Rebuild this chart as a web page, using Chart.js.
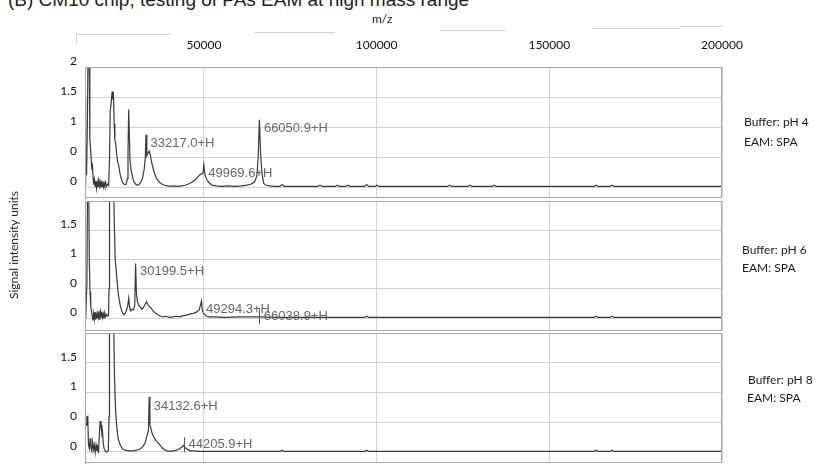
<!DOCTYPE html>
<html><head><meta charset="utf-8">
<script src="https://cdn.jsdelivr.net/npm/chart.js@4.4.1/dist/chart.umd.min.js"></script>
<style>
body{margin:0;background:#fff;}
#wrap{position:relative;width:818px;height:465px;overflow:hidden;background:#fff;font-family:Lato,"Open Sans",sans-serif;}
.cv{position:absolute;left:0;width:818px;}
.cv canvas{display:block;}
.txt{position:absolute;white-space:nowrap;color:#1a1a1a;font-size:12px;line-height:14px;}
.art{position:absolute;background:#cfcfcf;}
</style></head><body>
<div id="wrap">
  <div class="txt" style="left:8px;top:-10px;font-family:'Liberation Sans',Arial,sans-serif;font-size:19px;line-height:19px;color:#222;">(B) CM10 chip, testing of PAs EAM at high mass range</div>
  <div class="art" style="left:76px;top:34px;width:1px;height:9px"></div>
  <div class="art" style="left:76px;top:34px;width:94px;height:1px"></div>
  <div class="art" style="left:255px;top:32px;width:80px;height:1px"></div>
  <div class="art" style="left:440px;top:30px;width:65px;height:1px"></div>
  <div class="art" style="left:592px;top:28px;width:88px;height:1px"></div>
  <div class="art" style="left:680px;top:26px;width:42px;height:1px"></div>
  <div class="cv" style="top:0;height:200px"><canvas id="c1" width="818" height="200"></canvas></div>
  <div class="cv" style="top:199px;height:134px"><canvas id="c2" width="818" height="134"></canvas></div>
  <div class="cv" style="top:331px;height:134px"><canvas id="c3" width="818" height="134"></canvas></div>
  <div class="txt" style="left:372px;top:12px;">m/z</div>
  <div class="txt" style="left:14px;top:245px;transform:translate(-50%,-50%) rotate(-90deg);">Signal intensity units</div>
  <div class="txt" style="left:744px;top:115px;">Buffer: pH 4</div>
  <div class="txt" style="left:744px;top:135px;">EAM: SPA</div>
  <div class="txt" style="left:742px;top:243px;">Buffer: pH 6</div>
  <div class="txt" style="left:742px;top:261px;">EAM: SPA</div>
  <div class="txt" style="left:748px;top:373px;">Buffer: pH 8</div>
  <div class="txt" style="left:747px;top:391px;">EAM: SPA</div>
</div>
<script>
// ---- axis values ----
const xTickValues = [50000, 100000, 150000, 200000];
const xTickLabels = ['50000', '100000', '150000', '200000'];
const yTickValues = [0, 0.5, 1, 1.5, 2];
const yTickText = ['0', '0', '1', '1.5', '2'];

// ---- Panel 1: Buffer pH 4 ----
const p1Mz = [15560,15650,15800,16000,16250,16450,16750,16950,17250,17500,
 17700,17900,18100,18300,18500,18700,18900,19100,19300,19500,
 19700,19900,20100,20300,20500,20700,20900,21100,21300,21500,
 21800,22100,22400,22650,22850,23100,23400,23600,23800,24000,
 24200,24450,24700,25000,25300,25700,26100,26500,27000,27500,
 27800,28000,28200,28400,28600,28900,29300,29700,30200,30700,
 31200,31700,32200,32700,33000,33217,33450,33750,34100,34400,
 34750,35100,35500,36000,36500,37100,37800,38600,39500,40500,
 41500,42500,43500,44500,45500,46500,47500,48400,49200,49700,
 49970,50300,50800,51500,52300,53500,55000,57000,59000,61000,
 62500,63700,64600,65300,65700,66050,66400,66800,67300,68000,
 69000,70500,72000,72600,73200,80000,83000,83600,84200,88000,
 88600,89200,91000,91600,92200,96500,97100,97700,99500,100100,
 100700,120500,121100,121700,126400,127000,127600,133500,134100,134700,
 163000,163600,164200,167600,168200,168800,200000];
const p1Int = [0.02,1.48,0.45,0.20,1.10,2.40,2.40,0.80,0.56,0.32,
 0.36,0.14,0.04,0.12,0.01,0.10,-0.02,0.08,0.00,0.11,
 0.02,0.09,-0.01,0.07,0.01,0.10,0.00,0.06,0.01,0.08,
 0.01,0.05,0.03,0.45,1.28,1.38,1.59,1.46,1.52,1.05,
 0.78,0.72,0.55,0.42,0.36,0.22,0.13,0.07,0.04,0.05,
 0.14,0.55,1.29,0.85,0.42,0.28,0.17,0.09,0.05,0.03,
 0.04,0.08,0.15,0.30,0.48,0.87,0.52,0.56,0.60,0.55,
 0.44,0.35,0.26,0.18,0.12,0.08,0.05,0.03,0.02,0.01,
 0.02,0.01,0.02,0.03,0.05,0.08,0.12,0.18,0.22,0.23,
 0.37,0.20,0.13,0.07,0.03,0.02,0.01,0.02,0.01,0.02,
 0.03,0.05,0.08,0.18,0.50,1.12,0.55,0.22,0.06,0.03,
 0.02,0.01,0.01,0.04,0.01,0.01,0.01,0.03,0.01,0.01,
 0.03,0.01,0.01,0.03,0.01,0.01,0.04,0.01,0.01,0.03,
 0.01,0.01,0.03,0.01,0.01,0.03,0.01,0.01,0.03,0.01,
 0.01,0.03,0.01,0.01,0.03,0.01,0.01];
const p1PeakMz = [33217.0, 49969.6, 66050.9];
const p1PeakText = ['33217.0+H', '49969.6+H', '66050.9+H'];
const p1PeakAt = [0.73, 0.23, 0.97];
const p1PeakTick = [false, false, false];

// ---- Panel 2: Buffer pH 6 ----
const p2Mz = [15560,15800,16100,16300,16600,16800,17000,17200,17450,17650,
 17850,18050,18250,18450,18650,18850,19050,19250,19450,19650,
 19850,20050,20250,20450,20650,20850,21050,21250,21500,21800,
 22100,22350,22500,22650,23800,24000,24300,24770,25200,25730,
 26200,26700,27200,27600,27900,28200,28500,28800,29200,29600,
 29950,30199,30450,30750,31100,31500,32000,32500,33000,33400,
 33800,34400,34900,35400,36000,36800,37500,38200,39000,40000,
 41100,42000,43000,44000,45000,46000,46900,47800,48600,49294,
 49500,49800,50300,50800,51500,53000,56000,60000,63000,66000,
 70000,96500,97100,97700,163000,163600,164200,167600,168200,168800,
 200000];
const p2Int = [0.00,0.08,0.60,2.40,2.40,0.99,0.45,0.20,0.11,0.03,
 -0.04,0.08,-0.02,0.10,-0.03,0.06,0.00,0.12,0.01,0.08,
 -0.03,0.10,0.02,0.11,0.01,0.07,-0.01,0.09,0.02,0.06,
 0.03,0.05,0.50,2.40,2.40,1.70,1.00,0.68,0.40,0.22,
 0.12,0.06,0.08,0.14,0.20,0.34,0.17,0.12,0.15,0.14,
 0.22,0.93,0.40,0.28,0.22,0.19,0.15,0.18,0.24,0.28,
 0.22,0.19,0.15,0.11,0.08,0.05,0.03,0.02,0.03,0.01,
 0.02,0.03,0.02,0.04,0.05,0.07,0.08,0.10,0.14,0.29,
 0.14,0.09,0.05,0.03,0.02,0.02,0.01,0.02,0.02,0.02,
 0.01,0.01,0.03,0.01,0.01,0.03,0.01,0.01,0.03,0.01,
 0.01];
const p2PeakMz = [30199.5, 49294.3, 66038.9];
const p2PeakText = ['30199.5+H', '49294.3+H', '66038.9+H'];
const p2PeakAt = [0.80, 0.14, 0.03];
const p2PeakTick = [false, false, true];

// ---- Panel 3: Buffer pH 8 ----
const p3Mz = [15560,15650,15900,16100,16350,16550,16800,17050,17250,17500,
 17750,18000,18250,18500,18750,19000,19200,19450,19700,19940,
 20100,20250,20450,20620,20850,21100,21500,21900,22300,22500,
 22640,23800,24080,24400,24770,25200,25730,26400,27170,28300,
 29590,30500,31500,32300,32950,33500,33920,34133,34350,34600,
 35000,35400,36000,36800,37500,38240,39200,40200,41100,42100,
 42800,43500,44000,44300,45000,46000,47000,49000,55000,72000,
 72600,73200,96500,97100,97700,163000,163600,164200,167600,168200,
 168800,200000];
const p3Int = [2.00,0.51,0.45,0.59,0.60,0.12,0.06,0.23,0.08,0.02,
 0.17,0.04,0.12,-0.01,0.12,0.02,0.08,-0.02,0.28,0.52,
 0.40,0.45,0.30,0.34,0.14,0.05,0.01,0.00,0.02,0.60,
 2.40,2.40,1.29,0.70,0.40,0.21,0.12,0.05,0.03,0.02,
 0.02,0.03,0.05,0.09,0.15,0.28,0.36,0.93,0.46,0.40,
 0.31,0.26,0.20,0.15,0.10,0.05,0.02,0.01,0.02,0.03,
 0.05,0.08,0.11,0.09,0.05,0.02,0.02,0.01,0.01,0.01,
 0.03,0.01,0.01,0.03,0.01,0.01,0.03,0.01,0.01,0.03,
 0.01,0.01];
const p3PeakMz = [34132.6, 44205.9];
const p3PeakText = ['34132.6+H', '44205.9+H'];
const p3PeakAt = [0.76, 0.13];
const p3PeakTick = [false, true];

const X_MIN = 15550, X_MAX = 200000;

const panelDecor = {
  id: 'panelDecor',
  afterDatasetsDraw(chart, args, opts) {
    const {ctx, chartArea: a, scales: {x, y}} = chart;
    ctx.save();
    ctx.strokeStyle = '#a8a8a8';
    ctx.lineWidth = 1;
    ctx.strokeRect(a.left + 0.5, a.top + 0.5, a.right - a.left - 1, a.bottom - a.top - 1);
    const p = opts.peaks;
    if (p) {
      ctx.font = '13px "Liberation Sans", Arial, sans-serif';
      ctx.fillStyle = '#666';
      ctx.strokeStyle = '#555';
      ctx.textBaseline = 'middle';
      ctx.textAlign = 'left';
      p.mz.forEach((m, i) => {
        const px = x.getPixelForValue(m);
        const py = y.getPixelForValue(p.at[i]);
        ctx.fillText(p.text[i], px + 4.5, py);
        if (p.tick[i]) {
          ctx.beginPath();
          ctx.moveTo(Math.round(px) + 0.5, py - 7);
          ctx.lineTo(Math.round(px) + 0.5, py + 8);
          ctx.stroke();
        }
      });
    }
    ctx.restore();
  }
};

function makePanel(id, mz, ints, yMin, yTicks, peaks, isTop) {
  const pts = mz.map((m, i) => ({x: m, y: ints[i]}));
  return new Chart(document.getElementById(id), {
    type: 'line',
    data: {datasets: [{data: pts, borderColor: '#3a3a3a', borderWidth: 1.2, pointRadius: 0, tension: 0, fill: false}]},
    options: {
      responsive: false, animation: false, devicePixelRatio: 1,
      layout: {padding: {top: isTop ? 0 : 2, bottom: 2, left: 0, right: 96}},
      plugins: {legend: {display: false}, tooltip: {enabled: false}, panelDecor: {peaks}},
      scales: {
        x: {
          type: 'linear', position: 'top', min: X_MIN, max: X_MAX,
          afterBuildTicks: s => { s.ticks = xTickValues.map(v => ({value: v})); },
          afterFit: s => { s.height = isTop ? 67 : 0; s.paddingLeft = 0; s.paddingRight = 0; s.paddingTop = 0; s.paddingBottom = 0; },
          grid: {color: '#d2d2d2', drawTicks: false, lineWidth: 1},
          border: {display: true, color: '#a8a8a8'},
          ticks: {display: isTop, padding: 15, color: '#111', maxRotation: 0, autoSkip: false,
                  font: {family: 'Lato', size: 12},
                  callback: v => xTickLabels[xTickValues.indexOf(v)]}
        },
        y: {
          type: 'linear', min: yMin, max: 2,
          afterBuildTicks: s => { s.ticks = yTicks.map(v => ({value: v})); },
          afterFit: s => { s.width = 85; s.paddingTop = 0; s.paddingBottom = 0; s.paddingLeft = 0; s.paddingRight = 0; },
          grid: {color: '#d2d2d2', drawTicks: false},
          border: {display: true, color: '#a8a8a8'},
          ticks: {padding: 8, labelOffset: -6, color: '#111', autoSkip: false,
                  font: {family: 'Lato', size: 12},
                  callback: v => yTickText[yTickValues.indexOf(v)]}
        }
      }
    },
    plugins: [panelDecor]
  });
}

makePanel('c1', p1Mz, p1Int, -0.183, [0, 0.5, 1, 1.5, 2],
  {mz: p1PeakMz, text: p1PeakText, at: p1PeakAt, tick: p1PeakTick}, true);
makePanel('c2', p2Mz, p2Int, -0.222, [0, 0.5, 1, 1.5],
  {mz: p2PeakMz, text: p2PeakText, at: p2PeakAt, tick: p2PeakTick}, false);
makePanel('c3', p3Mz, p3Int, -0.185, [0, 0.5, 1, 1.5],
  {mz: p3PeakMz, text: p3PeakText, at: p3PeakAt, tick: p3PeakTick}, false);
</script>
</body></html>
